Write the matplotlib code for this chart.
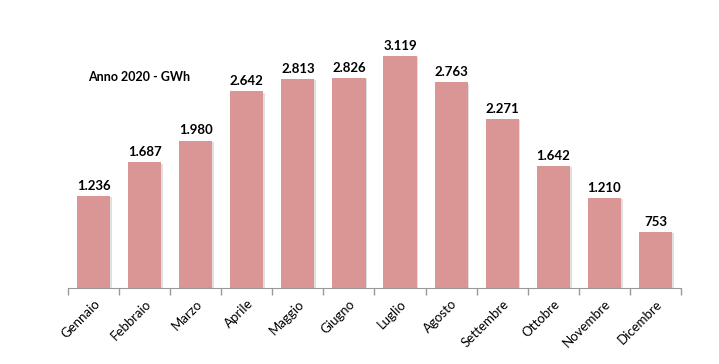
import numpy as np
import matplotlib
matplotlib.use("Agg")
import matplotlib.pyplot as plt
import matplotlib.patheffects as pe

plt.rcParams['font.family'] = ['Lato', 'DejaVu Sans']

mesi = ["Gennaio", "Febbraio", "Marzo", "Aprile", "Maggio", "Giugno",
        "Luglio", "Agosto", "Settembre", "Ottobre", "Novembre", "Dicembre"]
gwh = [1236, 1687, 1980, 2642, 2813, 2826, 3119, 2763, 2271, 1642, 1210, 753]
etichette = ["1.236", "1.687", "1.980", "2.642", "2.813", "2.826",
             "3.119", "2.763", "2.271", "1.642", "1.210", "753"]

fig = plt.figure(figsize=(7.19, 3.64), dpi=100)
ax = fig.add_axes([68 / 719, 76.3 / 364, 613 / 719, 260 / 364])

x = np.arange(len(mesi))
bars = ax.bar(x, gwh, width=0.65, color="#D99694", zorder=2)
for b in bars:
    b.set_path_effects([pe.SimplePatchShadow(offset=(1.2, -1), shadow_rgbFace="#999999", alpha=0.3),
                        pe.Normal()])

for xi, v, t in zip(x, gwh, etichette):
    ax.annotate(t, (xi, v), xytext=(0, 3), textcoords="offset points",
                ha="center", va="bottom", fontsize=9.5, fontweight="bold", color="black")

ax.set_xlim(-0.5, len(mesi) - 0.5)
ax.set_ylim(0, 3500)
ax.set_xticks(x)
ax.set_xticklabels(mesi, rotation=45, ha="right", rotation_mode="anchor", fontsize=9.5)
ax.tick_params(axis="x", length=0, pad=7)
# tacche tra le categorie
ax.set_xticks(np.arange(-0.5, len(mesi)), minor=True)
ax.tick_params(axis="x", which="minor", length=5, color="#999999", width=1)
ax.set_yticks([])
for s in ["top", "right", "left"]:
    ax.spines[s].set_visible(False)
ax.spines["bottom"].set_color("#999999")

fig.text(88 / 719, 1 - 77 / 364, "Anno 2020 - GWh", fontsize=9, fontweight="bold",
         va="center", ha="left")

fig.savefig("out.png", dpi=100)
